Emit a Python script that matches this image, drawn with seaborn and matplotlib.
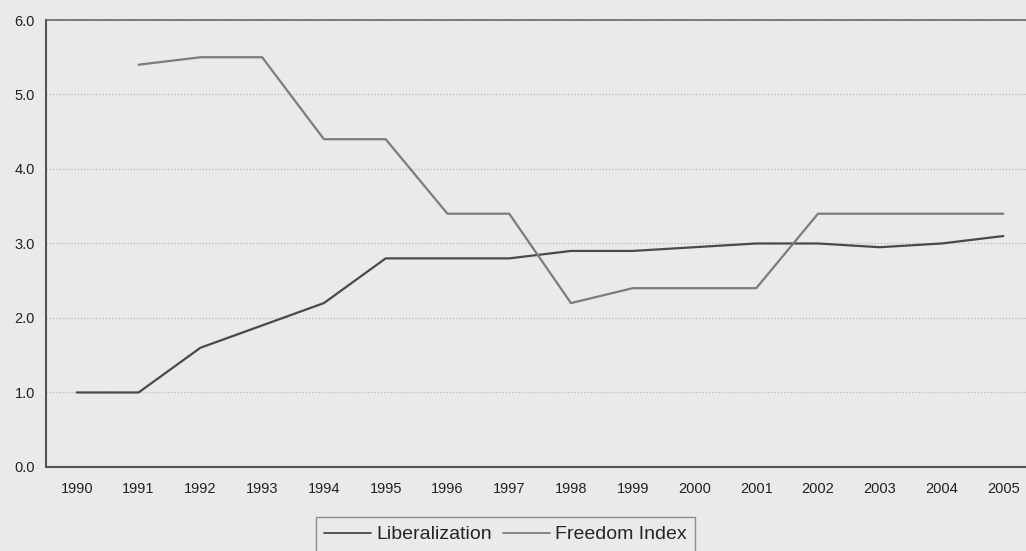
import numpy as np
import pandas as pd
import matplotlib
matplotlib.use("Agg")
import matplotlib.pyplot as plt
import seaborn as sns

years = list(range(1990, 2006))
liberalization = [1.0, 1.0, 1.6, 1.9, 2.2, 2.8, 2.8, 2.8, 2.9, 2.9, 2.95, 3.0, 3.0, 2.95, 3.0, 3.1]
freedom_index = [np.nan, 5.4, 5.5, 5.5, 4.4, 4.4, 3.4, 3.4, 2.2, 2.4, 2.4, 2.4, 3.4, 3.4, 3.4, 3.4]
series_names = ["Liberalization", "Freedom Index"]
y_ticks = [0.0, 1.0, 2.0, 3.0, 4.0, 5.0, 6.0]

df = pd.DataFrame({
    "Year": years * 2,
    "Value": liberalization + freedom_index,
    "Series": [series_names[0]] * len(years) + [series_names[1]] * len(years),
}).dropna()

sns.set_style("white")
plt.rcParams["font.family"] = ["Liberation Sans", "DejaVu Sans"]

bg = "#eaeaea"
fig = plt.figure(figsize=(10.26, 5.51), dpi=100, facecolor=bg)
ax = fig.add_axes([0.0448, 0.1525, 0.9632, 0.8112])
ax.set_facecolor(bg)

palette = {"Liberalization": "#4a4a4a", "Freedom Index": "#7c7c7c"}
sns.lineplot(data=df, x="Year", y="Value", hue="Series", palette=palette,
             linewidth=1.6, ax=ax, legend=False, sort=True)

ax.set_xlim(1989.5, 2005.5)
ax.set_ylim(0, 6)
ax.set_xlabel("")
ax.set_ylabel("")

ax.set_xticks(years)
ax.set_xticklabels([str(y) for y in years], fontsize=10.5, color="#222222")
ax.set_xticks([y + 0.5 for y in [years[0] - 1] + years], minor=True)
ax.tick_params(axis="x", which="major", length=0, pad=11)
ax.tick_params(axis="x", which="minor", length=3, direction="out", color="#555555")

ax.set_yticks(y_ticks)
ax.set_yticklabels([f"{v:.1f}" for v in y_ticks], fontsize=10.5, color="#222222")
ax.tick_params(axis="y", length=3, direction="out", color="#555555", pad=5)

ax.yaxis.grid(True, linestyle=(0, (1, 1.5)), color="#b9b9b9", linewidth=0.9)
ax.set_axisbelow(True)

for side in ["left", "bottom"]:
    ax.spines[side].set_color("#555555")
    ax.spines[side].set_linewidth(1.5)
ax.spines["top"].set_color("#6a6a6a")
ax.spines["top"].set_linewidth(1.2)
ax.spines["right"].set_color("#6a6a6a")

handles = [plt.Line2D([], [], color=palette[n], linewidth=1.3) for n in series_names]
leg = fig.legend(handles, series_names, loc="upper center",
                 bbox_to_anchor=(0.4927, 0.0617), ncol=2, fontsize=14,
                 frameon=True, fancybox=False, handlelength=2.4,
                 handletextpad=0.26, columnspacing=0.6, borderpad=0.45,
                 borderaxespad=0)
leg.get_frame().set_edgecolor("#777777")
leg.get_frame().set_facecolor(bg)
leg.get_frame().set_linewidth(1.0)

fig.savefig("out.png", dpi=100, facecolor=bg)
